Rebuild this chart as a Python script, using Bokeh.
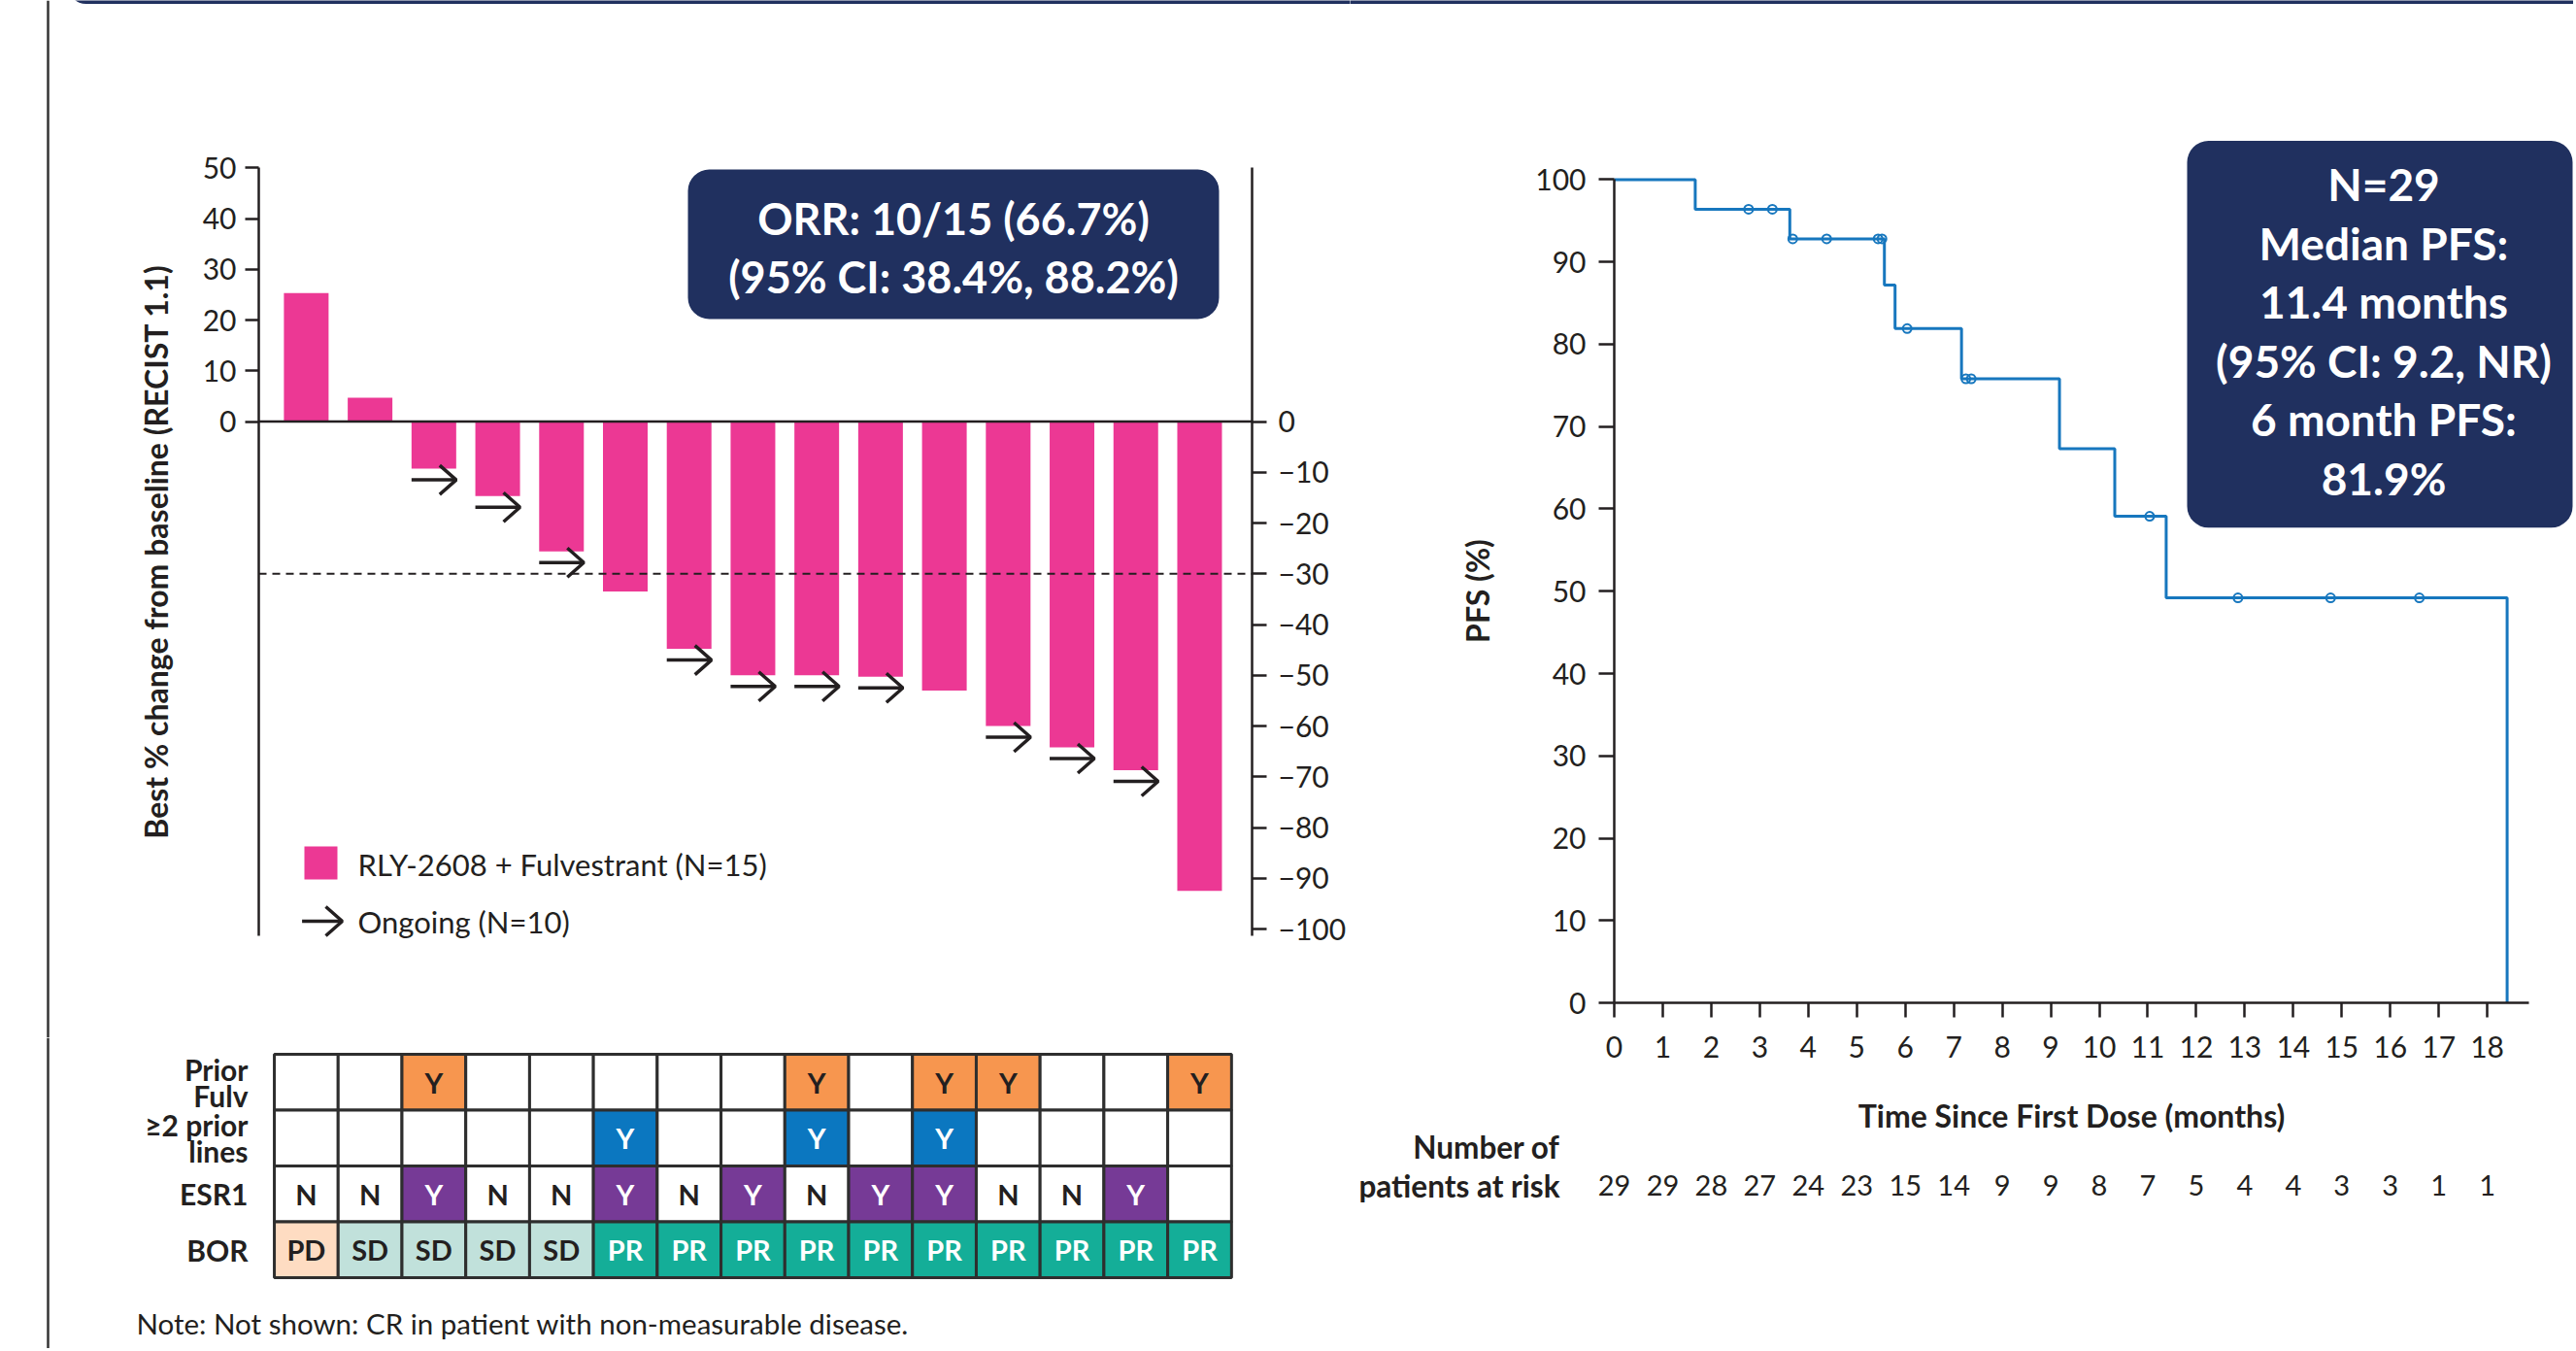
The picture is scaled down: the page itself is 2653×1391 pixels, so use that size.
from bokeh.plotting import figure
from bokeh.models import Range1d, LinearAxis, FixedTicker, ColumnDataSource, BoxAnnotation
from bokeh.layouts import row, column
from bokeh.core.properties import value
from bokeh.embed import file_html
from bokeh.resources import INLINE

# ---------------------------------------------------------------- data
patient_index = list(range(15))
best_change = [25.3, 4.7, -9.3, -14.7, -25.6, -33.5, -44.8, -50.0, -50.0,
               -50.3, -53.0, -60.0, -64.2, -68.7, -92.5]
ongoing = [False, False, True, True, True, False, True, True, True, True,
           False, True, True, True, False]
prior_fulv = ["", "", "Y", "", "", "", "", "", "Y", "", "Y", "Y", "", "", "Y"]
prior_lines2 = ["", "", "", "", "", "Y", "", "", "Y", "", "Y", "", "", "", ""]
esr1 = ["N", "N", "Y", "N", "N", "Y", "N", "Y", "N", "Y", "Y", "N", "N", "Y", ""]
bor = ["PD", "SD", "SD", "SD", "SD", "PR", "PR", "PR", "PR", "PR", "PR", "PR",
       "PR", "PR", "PR"]
table_row_labels = [["Prior", "Fulv"], ["≥2 prior", "lines"], ["ESR1"], ["BOR"]]

wf_left_ticks = [0, 10, 20, 30, 40, 50]
wf_right_ticks = [0, -10, -20, -30, -40, -50, -60, -70, -80, -90, -100]
wf_right_tick_labels = ["0", "−10", "−20", "−30", "−40", "−50", "−60", "−70",
                        "−80", "−90", "−100"]
response_threshold = -30
wf_axis_title = "Best % change from baseline (RECIST 1.1)"
legend_labels = ["RLY-2608 + Fulvestrant (N=15)", "Ongoing (N=10)"]
orr_lines = ["ORR: 10/15 (66.7%)", "(95% CI: 38.4%, 88.2%)"]
note_text = "Note: Not shown: CR in patient with non-measurable disease."

km_time = [0, 1.67, 3.62, 5.57, 5.79, 7.16, 9.18, 10.32, 11.38, 18.41]
km_pfs = [100, 96.4, 92.8, 87.2, 81.9, 75.8, 67.3, 59.1, 49.2, 0]
censor_time = [2.77, 3.26, 3.68, 4.38, 5.44, 5.52, 6.04, 7.25, 7.36, 11.04,
               12.86, 14.77, 16.6]
censor_pfs = [96.4, 96.4, 92.8, 92.8, 92.8, 92.8, 81.9, 75.8, 75.8, 59.1,
              49.2, 49.2, 49.2]
risk_months = list(range(19))
at_risk = [29, 29, 28, 27, 24, 23, 15, 14, 9, 9, 8, 7, 5, 4, 4, 3, 3, 1, 1]
km_xticks = list(range(19))
km_yticks = [0, 10, 20, 30, 40, 50, 60, 70, 80, 90, 100]
km_box_lines = ["N=29", "Median PFS:", "11.4 months", "(95% CI: 9.2, NR)",
                "6 month PFS:", "81.9%"]
risk_title = ["Number of", "patients at risk"]
km_x_title = "Time Since First Dose (months)"
km_y_title = "PFS (%)"

# ---------------------------------------------------------------- styles
PINK = "#EC3894"
NAVY = "#20305F"
KM_BLUE = "#1777BE"
INK = "#231F20"
ORANGE = "#F7964F"
BLUE = "#0B77C0"
PURPLE = "#763A96"
PEACH = "#FEDCC2"
SD_TEAL = "#C1E1DB"
PR_TEAL = "#14AE98"
CELL_LINE = "#2E2E2E"
RULE = "#333333"
FONT = "Lato"

# page-pixel helpers (layout starts at page (0, 0))
BAR0_PX, BAR_STEP = 314.9, 65.72
ZERO_PY, PCT_PX = 433.5, 5.225
def wx(px): return (px - BAR0_PX) / BAR_STEP
def wy(py): return (ZERO_PY - py) / PCT_PX

TB_BOT, ROW_PX = 1315.0, 57.5
def ty(py): return (TB_BOT - py) / ROW_PX

KM_X0, MONTH_PX = 1662.0, 49.95
KM_Y0, PFS_PX = 1032.1, 8.477
def kx(px): return (px - KM_X0) / MONTH_PX
def ky(py): return (KM_Y0 - py) / PFS_PX

LEFT_W, TOTAL_W = 1390, 2650
TOP_H, TOTAL_H = 1068, 1388


def base_fig(w, h, xr, yr):
    f = figure(width=w, height=h, x_range=xr, y_range=yr, output_backend="svg",
               toolbar_location=None, x_axis_type=None, y_axis_type=None,
               min_border=0, title=None)
    f.outline_line_color = None
    f.background_fill_color = "white"
    f.border_fill_color = "white"
    f.grid.visible = False
    return f


def style_axis(ax, tick_out, standoff):
    ax.axis_line_color = INK
    ax.axis_line_width = 2.5
    ax.major_tick_line_color = INK
    ax.major_tick_line_width = 2.5
    ax.major_tick_out = tick_out
    ax.major_tick_in = 0
    ax.minor_tick_line_color = None
    ax.major_label_text_font = FONT
    ax.major_label_text_font_size = "30px"
    ax.major_label_text_color = INK
    ax.major_label_standoff = standoff
    ax.axis_label_text_font = FONT
    ax.axis_label_text_font_style = "bold"
    ax.axis_label_text_font_size = "32px"
    ax.axis_label_text_color = INK


# ================================================================ waterfall
wf = base_fig(LEFT_W, TOP_H, Range1d(wx(0), wx(LEFT_W)), Range1d(wy(TOP_H), wy(0)))

ax_left_x, ax_right_x = wx(266), wx(1289)
y_bounds = (-101.4, 50)

# poster frame decorations
wf.add_layout(BoxAnnotation(left=wx(70), right=wx(LEFT_W + 20), top=wy(-40), bottom=wy(3.5),
                            fill_color=NAVY, fill_alpha=1.0, line_color=None,
                            border_radius=(0, 0, 0, 18), level="underlay"))
wf.segment(x0=[wx(49)], y0=[wy(0)], x1=[wx(49)], y1=[wy(TOP_H)],
           line_color=RULE, line_width=2.5)

orr_box = BoxAnnotation(left=wx(708), right=wx(1255), top=wy(174), bottom=wy(328),
                        fill_color=NAVY, fill_alpha=1.0, line_color=None,
                        border_radius=22, level="underlay")
wf.add_layout(orr_box)

BAR_W = 0.70
wf.vbar(x=patient_index, top=best_change, bottom=0, width=BAR_W,
        fill_color=PINK, line_color=None)

wf.segment(x0=[ax_left_x], y0=[0], x1=[ax_right_x], y1=[0],
           line_color=INK, line_width=2.5)
wf.segment(x0=[ax_left_x], y0=[response_threshold], x1=[ax_right_x],
           y1=[response_threshold], line_color=INK, line_width=2,
           line_dash="8 6")

# ongoing arrows beneath bars
ARROW_GAP = 2.2
HEAD_DX = 17 / BAR_STEP
HEAD_DY = 15 / PCT_PX
axs, ays = [], []
for i, v, on in zip(patient_index, best_change, ongoing):
    if not on:
        continue
    y = v - ARROW_GAP
    x0, x1 = i - BAR_W / 2, i + BAR_W / 2
    axs += [[x0, x1], [x1 - HEAD_DX, x1, x1 - HEAD_DX]]
    ays += [[y, y], [y + HEAD_DY, y, y - HEAD_DY]]
wf.multi_line(xs=axs, ys=ays, line_color=INK, line_width=3.5)

# legend
wf.scatter(x=[wx(330)], y=[wy(888)], marker="square", size=34,
           fill_color=PINK, line_color=None)
lx0, lx1, ly = wx(310.6), wx(352), wy(948)
wf.multi_line(xs=[[lx0, lx1], [lx1 - HEAD_DX, lx1, lx1 - HEAD_DX]],
              ys=[[ly, ly], [ly + HEAD_DY, ly, ly - HEAD_DY]],
              line_color=INK, line_width=3.5)
wf.text(x=[wx(368)] * 2, y=[wy(889), wy(948)], text=legend_labels,
        text_font=value(FONT), text_font_size="31px", text_color=INK,
        text_align="left", text_baseline="middle")

wf.text(x=[wx(981.5)] * 2, y=[wy(224), wy(284.5)], text=orr_lines,
        text_font=value(FONT), text_font_size="45px", text_font_style="bold",
        text_color="white", text_align="center", text_baseline="middle")

ax_l = LinearAxis(ticker=FixedTicker(ticks=wf_left_ticks), fixed_location=ax_left_x,
                  bounds=y_bounds, axis_label=wf_axis_title)
style_axis(ax_l, 14, 9)
ax_l.axis_label_standoff = 26
wf.add_layout(ax_l, "left")

ax_r = LinearAxis(ticker=FixedTicker(ticks=wf_right_ticks), fixed_location=ax_right_x,
                  bounds=y_bounds)
ax_r.major_label_overrides = {t: s for t, s in zip(wf_right_ticks, wf_right_tick_labels)}
style_axis(ax_r, 15, 12)
wf.add_layout(ax_r, "right")

# ================================================================ table
tbl = base_fig(LEFT_W, TOTAL_H - TOP_H, Range1d(wx(0), wx(LEFT_W)),
               Range1d(ty(TOTAL_H), ty(TOP_H)))
tbl.segment(x0=[wx(49)], y0=[ty(TOP_H)], x1=[wx(49)], y1=[ty(TOTAL_H)],
            line_color=RULE, line_width=2.5)

fill_maps = [{"Y": ORANGE}, {"Y": BLUE}, {"Y": PURPLE},
             {"PD": PEACH, "SD": SD_TEAL, "PR": PR_TEAL}]
text_maps = [{"Y": INK}, {"Y": "white"}, {"Y": "white", "N": INK},
             {"PD": INK, "SD": INK, "PR": "white"}]
rows_data = [prior_fulv, prior_lines2, esr1, bor]
n_rows = len(rows_data)
cx, cy, cfill, ctext, ccol = [], [], [], [], []
for r, vals in enumerate(rows_data):
    yc = n_rows - 0.5 - r
    for i, v in enumerate(vals):
        cx.append(i)
        cy.append(yc)
        cfill.append(fill_maps[r].get(v, "white"))
        ctext.append(v)
        ccol.append(text_maps[r].get(v, INK))
cells = ColumnDataSource(dict(x=cx, y=cy, fill=cfill, label=ctext, tcol=ccol))
tbl.rect(x="x", y="y", width=1, height=1, fill_color="fill",
         line_color=CELL_LINE, line_width=3, source=cells)
tbl.text(x="x", y="y", text="label", text_color="tcol", source=cells,
         text_font=value(FONT), text_font_size="29px", text_font_style="bold",
         text_align="center", text_baseline="middle")

LINE_GAP = 27 / ROW_PX
lab_y, lab_t = [], []
for r, lines in enumerate(table_row_labels):
    yc = n_rows - 0.5 - r
    k = len(lines)
    for j, t in enumerate(lines):
        lab_y.append(yc + ((k - 1) / 2 - j) * LINE_GAP)
        lab_t.append(t)
tbl.text(x=[wx(255)] * len(lab_t), y=lab_y, text=lab_t, text_font=value(FONT),
         text_font_size="30px", text_font_style="bold", text_color=INK,
         text_align="right", text_baseline="middle")

tbl.text(x=[wx(140)], y=[ty(1361.5)], text=[note_text], text_font=value(FONT),
         text_font_size="29.5px", text_color=INK, text_align="left",
         text_baseline="middle")

# ================================================================ KM
km = base_fig(TOTAL_W - LEFT_W, TOTAL_H, Range1d(kx(LEFT_W), kx(TOTAL_W)),
              Range1d(ky(TOTAL_H), ky(0)))

km.add_layout(BoxAnnotation(left=kx(LEFT_W - 20), right=kx(TOTAL_W + 20), top=ky(-40),
                            bottom=ky(3.5), fill_color=NAVY, fill_alpha=1.0,
                            line_color=None, level="underlay"))

km_box = BoxAnnotation(left=kx(2252), right=kx(2649), top=ky(144.6), bottom=ky(542.8),
                       fill_color=NAVY, fill_alpha=1.0, line_color=None,
                       border_radius=22, level="underlay")
km.add_layout(km_box)
line_py = [189, 249.5, 310, 370.5, 431, 491.5]
km.text(x=[kx(2454.5)] * len(km_box_lines), y=[ky(p) for p in line_py],
        text=km_box_lines, text_font=value(FONT), text_font_size="46px",
        text_font_style="bold", text_color="white", text_align="center",
        text_baseline="middle")

km.step(x=km_time, y=km_pfs, mode="after", line_color=KM_BLUE, line_width=3)
km.scatter(x=censor_time, y=censor_pfs, marker="circle", size=9,
           fill_color=None, line_color=KM_BLUE, line_width=2)

kax_y = LinearAxis(ticker=FixedTicker(ticks=km_yticks), fixed_location=0,
                   bounds=(0, 100), axis_label=km_y_title)
style_axis(kax_y, 16, 13)
kax_y.axis_label_standoff = 37
km.add_layout(kax_y, "left")

kax_x = LinearAxis(ticker=FixedTicker(ticks=km_xticks), fixed_location=0,
                   bounds=(0, 18.86), axis_label=km_x_title)
style_axis(kax_x, 15, 19)
kax_x.axis_label_standoff = 37
km.add_layout(kax_x, "below")

km.text(x=risk_months, y=[ky(1220)] * len(risk_months), text=[str(n) for n in at_risk],
        text_font=value(FONT), text_font_size="29px", text_color=INK,
        text_align="center", text_baseline="middle")
km.text(x=[kx(1606)] * 2, y=[ky(1180), ky(1220)], text=risk_title,
        text_font=value(FONT), text_font_size="31.5px", text_font_style="bold",
        text_color=INK, text_align="right", text_baseline="middle")

layout = row(column(wf, tbl, spacing=0), km, spacing=0)
open("out.html", "w").write(file_html(layout, INLINE))
